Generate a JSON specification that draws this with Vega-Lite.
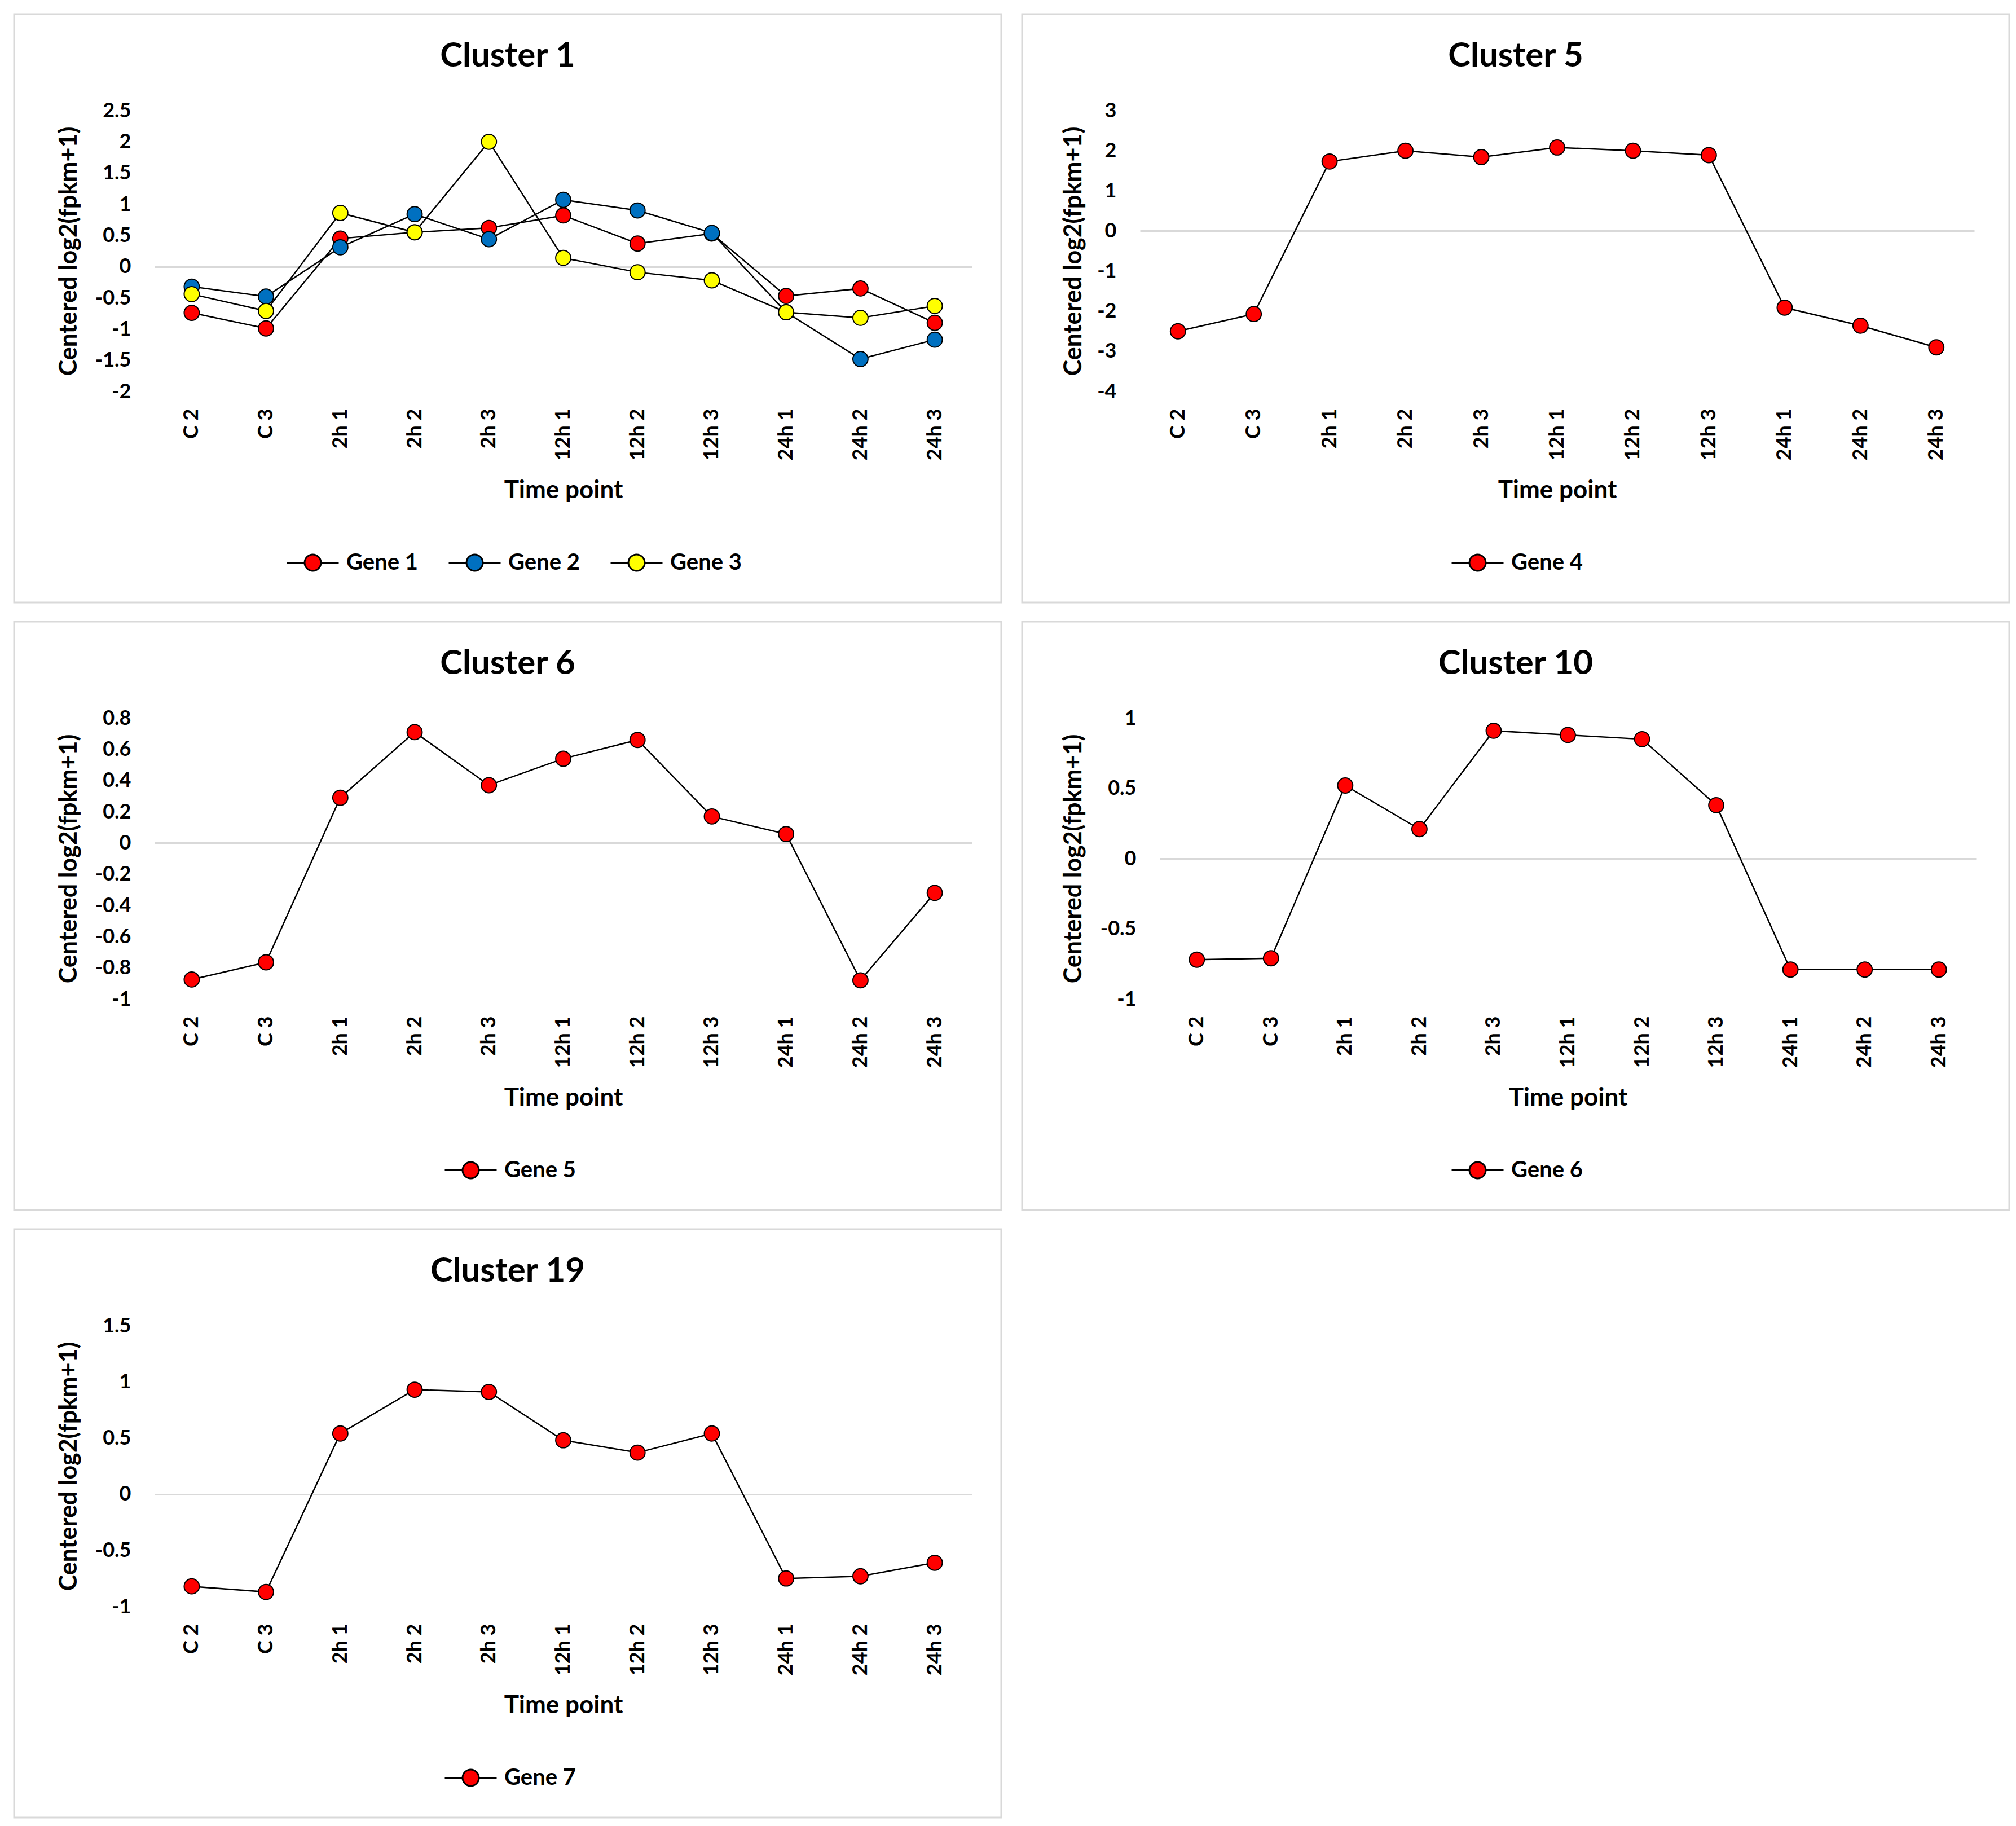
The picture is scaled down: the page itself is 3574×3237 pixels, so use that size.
{
  "$schema": "https://vega.github.io/schema/vega-lite/v6.json",
  "background": "white",
  "padding": {"left": 23, "top": 23, "right": 0, "bottom": 0},
  "data": {"values": [
    {"c": "Cluster 1", "gene": "Gene 1", "time": "C 2", "value": -0.74},
    {"c": "Cluster 1", "gene": "Gene 1", "time": "C 3", "value": -0.99},
    {"c": "Cluster 1", "gene": "Gene 1", "time": "2h 1", "value": 0.45},
    {"c": "Cluster 1", "gene": "Gene 1", "time": "2h 2", "value": 0.55},
    {"c": "Cluster 1", "gene": "Gene 1", "time": "2h 3", "value": 0.62},
    {"c": "Cluster 1", "gene": "Gene 1", "time": "12h 1", "value": 0.82},
    {"c": "Cluster 1", "gene": "Gene 1", "time": "12h 2", "value": 0.37},
    {"c": "Cluster 1", "gene": "Gene 1", "time": "12h 3", "value": 0.53},
    {"c": "Cluster 1", "gene": "Gene 1", "time": "24h 1", "value": -0.47},
    {"c": "Cluster 1", "gene": "Gene 1", "time": "24h 2", "value": -0.35},
    {"c": "Cluster 1", "gene": "Gene 1", "time": "24h 3", "value": -0.9},
    {"c": "Cluster 1", "gene": "Gene 2", "time": "C 2", "value": -0.32},
    {"c": "Cluster 1", "gene": "Gene 2", "time": "C 3", "value": -0.48},
    {"c": "Cluster 1", "gene": "Gene 2", "time": "2h 1", "value": 0.31},
    {"c": "Cluster 1", "gene": "Gene 2", "time": "2h 2", "value": 0.84},
    {"c": "Cluster 1", "gene": "Gene 2", "time": "2h 3", "value": 0.44},
    {"c": "Cluster 1", "gene": "Gene 2", "time": "12h 1", "value": 1.07},
    {"c": "Cluster 1", "gene": "Gene 2", "time": "12h 2", "value": 0.9},
    {"c": "Cluster 1", "gene": "Gene 2", "time": "12h 3", "value": 0.54},
    {"c": "Cluster 1", "gene": "Gene 2", "time": "24h 1", "value": -0.73},
    {"c": "Cluster 1", "gene": "Gene 2", "time": "24h 2", "value": -1.48},
    {"c": "Cluster 1", "gene": "Gene 2", "time": "24h 3", "value": -1.17},
    {"c": "Cluster 1", "gene": "Gene 3", "time": "C 2", "value": -0.44},
    {"c": "Cluster 1", "gene": "Gene 3", "time": "C 3", "value": -0.71},
    {"c": "Cluster 1", "gene": "Gene 3", "time": "2h 1", "value": 0.86},
    {"c": "Cluster 1", "gene": "Gene 3", "time": "2h 2", "value": 0.55},
    {"c": "Cluster 1", "gene": "Gene 3", "time": "2h 3", "value": 2.0},
    {"c": "Cluster 1", "gene": "Gene 3", "time": "12h 1", "value": 0.14},
    {"c": "Cluster 1", "gene": "Gene 3", "time": "12h 2", "value": -0.09},
    {"c": "Cluster 1", "gene": "Gene 3", "time": "12h 3", "value": -0.22},
    {"c": "Cluster 1", "gene": "Gene 3", "time": "24h 1", "value": -0.73},
    {"c": "Cluster 1", "gene": "Gene 3", "time": "24h 2", "value": -0.82},
    {"c": "Cluster 1", "gene": "Gene 3", "time": "24h 3", "value": -0.63},
    {"c": "Cluster 5", "gene": "Gene 4", "time": "C 2", "value": -2.5},
    {"c": "Cluster 5", "gene": "Gene 4", "time": "C 3", "value": -2.07},
    {"c": "Cluster 5", "gene": "Gene 4", "time": "2h 1", "value": 1.73},
    {"c": "Cluster 5", "gene": "Gene 4", "time": "2h 2", "value": 2.0},
    {"c": "Cluster 5", "gene": "Gene 4", "time": "2h 3", "value": 1.84},
    {"c": "Cluster 5", "gene": "Gene 4", "time": "12h 1", "value": 2.08},
    {"c": "Cluster 5", "gene": "Gene 4", "time": "12h 2", "value": 2.0},
    {"c": "Cluster 5", "gene": "Gene 4", "time": "12h 3", "value": 1.89},
    {"c": "Cluster 5", "gene": "Gene 4", "time": "24h 1", "value": -1.91},
    {"c": "Cluster 5", "gene": "Gene 4", "time": "24h 2", "value": -2.36},
    {"c": "Cluster 5", "gene": "Gene 4", "time": "24h 3", "value": -2.9},
    {"c": "Cluster 6", "gene": "Gene 5", "time": "C 2", "value": -0.875},
    {"c": "Cluster 6", "gene": "Gene 5", "time": "C 3", "value": -0.765},
    {"c": "Cluster 6", "gene": "Gene 5", "time": "2h 1", "value": 0.29},
    {"c": "Cluster 6", "gene": "Gene 5", "time": "2h 2", "value": 0.71},
    {"c": "Cluster 6", "gene": "Gene 5", "time": "2h 3", "value": 0.37},
    {"c": "Cluster 6", "gene": "Gene 5", "time": "12h 1", "value": 0.54},
    {"c": "Cluster 6", "gene": "Gene 5", "time": "12h 2", "value": 0.66},
    {"c": "Cluster 6", "gene": "Gene 5", "time": "12h 3", "value": 0.17},
    {"c": "Cluster 6", "gene": "Gene 5", "time": "24h 1", "value": 0.057},
    {"c": "Cluster 6", "gene": "Gene 5", "time": "24h 2", "value": -0.88},
    {"c": "Cluster 6", "gene": "Gene 5", "time": "24h 3", "value": -0.32},
    {"c": "Cluster 10", "gene": "Gene 6", "time": "C 2", "value": -0.72},
    {"c": "Cluster 10", "gene": "Gene 6", "time": "C 3", "value": -0.71},
    {"c": "Cluster 10", "gene": "Gene 6", "time": "2h 1", "value": 0.52},
    {"c": "Cluster 10", "gene": "Gene 6", "time": "2h 2", "value": 0.21},
    {"c": "Cluster 10", "gene": "Gene 6", "time": "2h 3", "value": 0.91},
    {"c": "Cluster 10", "gene": "Gene 6", "time": "12h 1", "value": 0.88},
    {"c": "Cluster 10", "gene": "Gene 6", "time": "12h 2", "value": 0.85},
    {"c": "Cluster 10", "gene": "Gene 6", "time": "12h 3", "value": 0.38},
    {"c": "Cluster 10", "gene": "Gene 6", "time": "24h 1", "value": -0.79},
    {"c": "Cluster 10", "gene": "Gene 6", "time": "24h 2", "value": -0.79},
    {"c": "Cluster 10", "gene": "Gene 6", "time": "24h 3", "value": -0.79},
    {"c": "Cluster 19", "gene": "Gene 7", "time": "C 2", "value": -0.82},
    {"c": "Cluster 19", "gene": "Gene 7", "time": "C 3", "value": -0.87},
    {"c": "Cluster 19", "gene": "Gene 7", "time": "2h 1", "value": 0.54},
    {"c": "Cluster 19", "gene": "Gene 7", "time": "2h 2", "value": 0.93},
    {"c": "Cluster 19", "gene": "Gene 7", "time": "2h 3", "value": 0.91},
    {"c": "Cluster 19", "gene": "Gene 7", "time": "12h 1", "value": 0.48},
    {"c": "Cluster 19", "gene": "Gene 7", "time": "12h 2", "value": 0.37},
    {"c": "Cluster 19", "gene": "Gene 7", "time": "12h 3", "value": 0.54},
    {"c": "Cluster 19", "gene": "Gene 7", "time": "24h 1", "value": -0.75},
    {"c": "Cluster 19", "gene": "Gene 7", "time": "24h 2", "value": -0.73},
    {"c": "Cluster 19", "gene": "Gene 7", "time": "24h 3", "value": -0.61}
  ]},
  "columns": 2,
  "spacing": {"row": 30, "column": 33},
  "resolve": {"scale": {"x": "independent", "y": "independent", "fill": "independent"}, "legend": {"fill": "independent"}},
  "concat": [
    {
      "width": 1750, "height": 1043,
      "title": {"text": "Cluster 1", "offset": -153, "baseline": "alphabetic"},
      "transform": [{"filter": "datum.c === 'Cluster 1'"}],
      "encoding": {
        "x": {"field": "time", "type": "ordinal", "sort": ["C 2","C 3","2h 1","2h 2","2h 3","12h 1","12h 2","12h 3","24h 1","24h 2","24h 3"],
              "scale": {"type": "point", "padding": 0.5, "range": [249, 1698]},
              "axis": {"title": "Time point", "offset": -374, "titleY": 188}},
        "y": {"field": "value", "type": "quantitative",
              "scale": {"domain": [-2, 2.5], "range": [669, 171], "nice": false, "zero": false},
              "axis": {"title": "Centered log2(fpkm+1)", "offset": -249, "titleX": -152, "values": [-2,-1.5,-1,-0.5,0,0.5,1,1.5,2,2.5]}}
      },
      "layer": [
        {"mark": {"type": "line", "color": "black", "strokeWidth": 2.5}, "encoding": {"detail": {"field": "gene"}}},
        {"mark": {"type": "point", "filled": true, "stroke": "black", "strokeWidth": 2, "size": 720, "opacity": 1},
         "encoding": {"fill": {"field": "gene", "type": "nominal",
           "scale": {"domain": ["Gene 1","Gene 2","Gene 3"], "range": ["#ff0000","#0070c0","#ffff00"]},
           "legend": {"legendX": 482, "legendY": 925}}}}
      ]
    },
    {
      "width": 1750, "height": 1043,
      "title": {"text": "Cluster 5", "offset": -153, "baseline": "alphabetic"},
      "transform": [{"filter": "datum.c === 'Cluster 5'"}],
      "encoding": {
        "x": {"field": "time", "type": "ordinal", "sort": ["C 2","C 3","2h 1","2h 2","2h 3","12h 1","12h 2","12h 3","24h 1","24h 2","24h 3"],
              "scale": {"type": "point", "padding": 0.5, "range": [209, 1688]},
              "axis": {"title": "Time point", "offset": -374, "titleY": 188}},
        "y": {"field": "value", "type": "quantitative",
              "scale": {"domain": [-4, 3], "range": [669, 171], "nice": false, "zero": false},
              "axis": {"title": "Centered log2(fpkm+1)", "offset": -209, "titleX": -118, "values": [-4,-3,-2,-1,0,1,2,3]}}
      },
      "layer": [
        {"mark": {"type": "line", "color": "black", "strokeWidth": 2.5}, "encoding": {"detail": {"field": "gene"}}},
        {"mark": {"type": "point", "filled": true, "stroke": "black", "strokeWidth": 2, "size": 720, "opacity": 1},
         "encoding": {"fill": {"field": "gene", "type": "nominal",
           "scale": {"domain": ["Gene 4"], "range": ["#ff0000"]},
           "legend": {"legendX": 760, "legendY": 925}}}}
      ]
    },
    {
      "width": 1750, "height": 1043,
      "title": {"text": "Cluster 6", "offset": -153, "baseline": "alphabetic"},
      "transform": [{"filter": "datum.c === 'Cluster 6'"}],
      "encoding": {
        "x": {"field": "time", "type": "ordinal", "sort": ["C 2","C 3","2h 1","2h 2","2h 3","12h 1","12h 2","12h 3","24h 1","24h 2","24h 3"],
              "scale": {"type": "point", "padding": 0.5, "range": [249, 1698]},
              "axis": {"title": "Time point", "offset": -374, "titleY": 188}},
        "y": {"field": "value", "type": "quantitative",
              "scale": {"domain": [-1, 0.8], "range": [669, 171], "nice": false, "zero": false},
              "axis": {"title": "Centered log2(fpkm+1)", "offset": -249, "titleX": -152, "values": [-1,-0.8,-0.6,-0.4,-0.2,0,0.2,0.4,0.6,0.8]}}
      },
      "layer": [
        {"mark": {"type": "line", "color": "black", "strokeWidth": 2.5}, "encoding": {"detail": {"field": "gene"}}},
        {"mark": {"type": "point", "filled": true, "stroke": "black", "strokeWidth": 2, "size": 720, "opacity": 1},
         "encoding": {"fill": {"field": "gene", "type": "nominal",
           "scale": {"domain": ["Gene 5"], "range": ["#ff0000"]},
           "legend": {"legendX": 762, "legendY": 925}}}}
      ]
    },
    {
      "width": 1750, "height": 1043,
      "title": {"text": "Cluster 10", "offset": -153, "baseline": "alphabetic"},
      "transform": [{"filter": "datum.c === 'Cluster 10'"}],
      "encoding": {
        "x": {"field": "time", "type": "ordinal", "sort": ["C 2","C 3","2h 1","2h 2","2h 3","12h 1","12h 2","12h 3","24h 1","24h 2","24h 3"],
              "scale": {"type": "point", "padding": 0.5, "range": [244, 1691]},
              "axis": {"title": "Time point", "offset": -374, "titleY": 188}},
        "y": {"field": "value", "type": "quantitative",
              "scale": {"domain": [-1, 1], "range": [669, 171], "nice": false, "zero": false},
              "axis": {"title": "Centered log2(fpkm+1)", "offset": -244, "titleX": -153, "values": [-1,-0.5,0,0.5,1]}}
      },
      "layer": [
        {"mark": {"type": "line", "color": "black", "strokeWidth": 2.5}, "encoding": {"detail": {"field": "gene"}}},
        {"mark": {"type": "point", "filled": true, "stroke": "black", "strokeWidth": 2, "size": 720, "opacity": 1},
         "encoding": {"fill": {"field": "gene", "type": "nominal",
           "scale": {"domain": ["Gene 6"], "range": ["#ff0000"]},
           "legend": {"legendX": 760, "legendY": 925}}}}
      ]
    },
    {
      "width": 1750, "height": 1043,
      "title": {"text": "Cluster 19", "offset": -153, "baseline": "alphabetic"},
      "transform": [{"filter": "datum.c === 'Cluster 19'"}],
      "encoding": {
        "x": {"field": "time", "type": "ordinal", "sort": ["C 2","C 3","2h 1","2h 2","2h 3","12h 1","12h 2","12h 3","24h 1","24h 2","24h 3"],
              "scale": {"type": "point", "padding": 0.5, "range": [249, 1698]},
              "axis": {"title": "Time point", "offset": -374, "titleY": 188}},
        "y": {"field": "value", "type": "quantitative",
              "scale": {"domain": [-1, 1.5], "range": [669, 171], "nice": false, "zero": false},
              "axis": {"title": "Centered log2(fpkm+1)", "offset": -249, "titleX": -152, "values": [-1,-0.5,0,0.5,1,1.5]}}
      },
      "layer": [
        {"mark": {"type": "line", "color": "black", "strokeWidth": 2.5}, "encoding": {"detail": {"field": "gene"}}},
        {"mark": {"type": "point", "filled": true, "stroke": "black", "strokeWidth": 2, "size": 720, "opacity": 1},
         "encoding": {"fill": {"field": "gene", "type": "nominal",
           "scale": {"domain": ["Gene 7"], "range": ["#ff0000"]},
           "legend": {"legendX": 762, "legendY": 925}}}}
      ]
    }
  ],
  "config": {
    "font": "Lato",
    "view": {"stroke": "#d9d9d9", "strokeWidth": 3},
    "title": {"font": "Lato", "fontSize": 60, "fontWeight": "bold", "color": "#000000", "anchor": "middle"},
    "axis": {
      "labelFont": "Lato", "labelFontWeight": "bold", "labelColor": "#000000", "labelFontSize": 36,
      "titleFont": "Lato", "titleFontWeight": "bold", "titleColor": "#000000",
      "domain": false, "ticks": false, "tickSize": 0, "labelOverlap": false
    },
    "axisX": {"labelAngle": 270, "labelPadding": 30, "titleFontSize": 44, "titleBaseline": "alphabetic", "grid": false},
    "axisY": {"labelPadding": 42, "titleFontSize": 43, "titleBaseline": "middle", "labelExpr": "'' + datum.value",
      "grid": true, "gridWidth": 3,
      "gridColor": {"condition": {"test": "datum.value === 0", "value": "#d9d9d9"}, "value": "transparent"}},
    "legend": {
      "orient": "none", "direction": "horizontal", "title": null, "padding": 0,
      "labelFont": "Lato", "labelFontWeight": "bold", "labelFontSize": 40, "labelColor": "#000000",
      "labelOffset": 12, "columnPadding": 48,
      "symbolType": "M-1,0L-0.315,0M0.315,0L1,0M0.315,0A0.315,0.315,0,1,1,-0.315,0A0.315,0.315,0,1,1,0.315,0Z",
      "symbolSize": 8464, "symbolStrokeColor": "#000000", "symbolStrokeWidth": 3
    }
  }
}
